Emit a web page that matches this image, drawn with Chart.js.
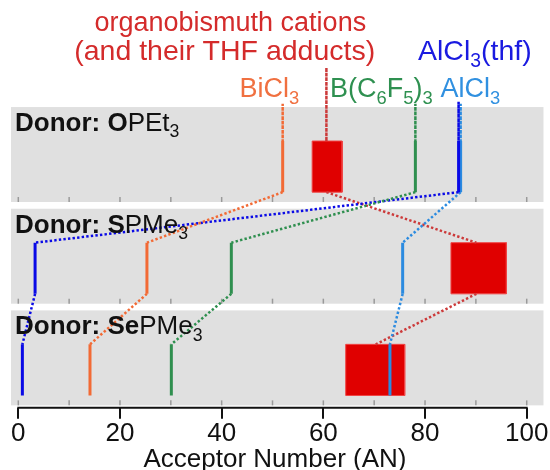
<!DOCTYPE html>
<html>
<head>
<meta charset="utf-8">
<script src="https://cdn.jsdelivr.net/npm/chart.js@4.4.0/dist/chart.umd.min.js"></script>
<style>
  html, body { margin: 0; padding: 0; background: #fff; }
</style>
</head>
<body>
<canvas id="anChart" width="550" height="470"></canvas>
<script>
// acceptor numbers, one value per donor panel (OPEt3, SPMe3, SePMe3)
const donors = ['OPEt3', 'SPMe3', 'SePMe3'];
const bicl3 = [52.0, 25.3, 14.1];
const bcf = [78.1, 41.9, 30.1];
const alcl3thf = [86.6, 3.3, 0.8];
const alcl3 = [87.0, 75.6, 73.1];
const cationLow = [57.8, 85.1, 64.4];
const cationHigh = [63.7, 96.0, 76.0];
const cationMid = [60.6, 90.1, 70.3];
const xTicks = [0, 20, 40, 60, 80, 100];
const minorTicks = [0, 10, 20, 30, 40, 50, 60, 70, 80, 90, 100];

// layout (panel units on y, AN units on x)
const X_MIN = -3.6, X_MAX = 104.58;
const Y_MIN = -1.52, Y_MAX = 2.49;
const PANEL_X0 = -1.44, PANEL_X1 = 103.3, PANEL_HALF = 0.467;
const LINE_TOP = -0.133, LINE_BOT = 0.37;
const FONT = "'Liberation Sans', Arial, sans-serif";

const ORANGE = '#f26a35', GREEN = '#2f8f4f', DBLUE = '#0a0ae6', LBLUE = '#2b8be0', RED = '#e00000';

const donorLabels = [
  [['Donor: O', 'b'], ['PEt', 'n'], ['3', 's']],
  [['Donor: S', 'b'], ['PMe', 'n'], ['3', 's']],
  [['Donor: Se', 'b'], ['PMe', 'n'], ['3', 's']]
];

const topLabels = [
  { parts: [['organobismuth cations', 'n']], x: 41.7, y: -1.22, size: 27, color: '#d42b2b' },
  { parts: [['(and their THF adducts)', 'n']], x: 40.6, y: -0.925, size: 28.5, color: '#d42b2b' },
  { parts: [['AlCl', 'n'], ['3', 's'], ['(thf)', 'n']], x: 89.8, y: -0.925, size: 28.5, color: '#1a1ae0' },
  { parts: [['BiCl', 'n'], ['3', 's']], x: 49.4, y: -0.565, size: 27, color: '#f07040' },
  { parts: [['B(C', 'n'], ['6', 's'], ['F', 'n'], ['5', 's'], [')', 'n'], ['3', 's']], x: 71.4, y: -0.565, size: 27, color: '#2e9050' },
  { parts: [['AlCl', 'n'], ['3', 's']], x: 88.9, y: -0.565, size: 27, color: '#3090e0' }
];

function trace(vals, labelY) {
  const pts = [{ x: vals[0], y: labelY }];
  vals.forEach((v, i) => {
    pts.push({ x: v, y: i + LINE_TOP });
    pts.push({ x: v, y: i + LINE_BOT });
  });
  return pts;
}

function seriesDataset(vals, color, labelY, order, dotColor, hideSolid) {
  return {
    type: 'line',
    data: trace(vals, labelY),
    borderColor: color,
    borderWidth: 3,
    pointRadius: 0,
    tension: 0,
    fill: false,
    order: order,
    segment: {
      borderDash: c => c.p0DataIndex % 2 === 0 ? [2.4, 2.2] : [],
      borderWidth: c => c.p0DataIndex % 2 === 0 ? 2.5 : 3,
      borderColor: c => c.p0DataIndex % 2 === 0 ? (dotColor || color) : (hideSolid ? 'rgba(0,0,0,0)' : color)
    }
  };
}

const rects = cationLow.map((lo, i) => ({
  type: 'line',
  data: [
    { x: lo, y: i + LINE_TOP }, { x: cationHigh[i], y: i + LINE_TOP },
    { x: cationHigh[i], y: i + LINE_BOT }, { x: lo, y: i + LINE_BOT },
    { x: lo, y: i + LINE_TOP }
  ],
  borderColor: '#f04545',
  borderWidth: 1,
  backgroundColor: RED,
  fill: 'shape',
  pointRadius: 0,
  tension: 0,
  order: 10
}));

function drawRich(ctx, parts, cx, baseY, size, color, align) {
  const pieces = parts.map(([t, k]) => {
    const fs = k === 's' ? size * 0.68 : size;
    const font = (k === 'b' ? 'bold ' : '') + fs + 'px ' + FONT;
    ctx.font = font;
    return { t, font, w: ctx.measureText(t).width, dy: k === 's' ? size * 0.24 : 0 };
  });
  const total = pieces.reduce((s, p) => s + p.w, 0);
  let x = align === 'left' ? cx : cx - total / 2;
  ctx.fillStyle = color;
  ctx.textBaseline = 'alphabetic';
  ctx.textAlign = 'left';
  pieces.forEach(p => {
    ctx.font = p.font;
    ctx.fillText(p.t, x, baseY + p.dy);
    x += p.w;
  });
}

const panelPlugin = {
  id: 'panels',
  beforeDatasetsDraw(chart) {
    const { ctx, scales: { x, y } } = chart;
    ctx.save();
    donors.forEach((_, i) => {
      const l = x.getPixelForValue(PANEL_X0), r = x.getPixelForValue(PANEL_X1);
      const t = y.getPixelForValue(i - PANEL_HALF), b = y.getPixelForValue(i + PANEL_HALF);
      ctx.fillStyle = '#e0e0e0';
      ctx.fillRect(l, t, r - l, b - t);
      ctx.strokeStyle = '#9a9a9a';
      ctx.lineWidth = 1.5;
      minorTicks.forEach(v => {
        const px = x.getPixelForValue(v);
        ctx.beginPath();
        ctx.moveTo(px, b);
        ctx.lineTo(px, b - 5);
        ctx.stroke();
      });
    });
    ctx.restore();
  },
  afterDatasetsDraw(chart) {
    const { ctx, scales: { x, y } } = chart;
    ctx.save();
    donorLabels.forEach((parts, i) => {
      drawRich(ctx, parts, x.getPixelForValue(PANEL_X0) + 4, y.getPixelForValue(i - PANEL_HALF) + 24, 26, '#111', 'left');
    });
    topLabels.forEach(lb => {
      drawRich(ctx, lb.parts, x.getPixelForValue(lb.x), y.getPixelForValue(lb.y), lb.size, lb.color, 'center');
    });
    ctx.restore();
  },
  afterDraw(chart) {
    const { ctx, chartArea, scales: { x } } = chart;
    ctx.save();
    ctx.strokeStyle = '#111';
    ctx.lineWidth = 2;
    ctx.beginPath();
    ctx.moveTo(x.getPixelForValue(xTicks[0]) - 1, chartArea.bottom);
    ctx.lineTo(x.getPixelForValue(xTicks[xTicks.length - 1]) + 1, chartArea.bottom);
    ctx.stroke();
    ctx.restore();
  }
};

new Chart(document.getElementById('anChart'), {
  type: 'line',
  data: {
    datasets: [
      seriesDataset(bicl3, ORANGE, -0.5, 1),
      seriesDataset(bcf, GREEN, -0.5, 1),
      seriesDataset(alcl3thf, DBLUE, -0.52, 2),
      seriesDataset(alcl3, LBLUE, -0.5, 3),
      seriesDataset(cationMid, RED, -0.85, 4, '#cc3a3a', true),
      ...rects
    ]
  },
  plugins: [panelPlugin],
  options: {
    responsive: false,
    animation: false,
    layout: { padding: 0 },
    plugins: { legend: { display: false }, tooltip: { enabled: false } },
    events: [],
    scales: {
      x: {
        type: 'linear',
        min: X_MIN,
        max: X_MAX,
        afterBuildTicks: s => { s.ticks = xTicks.map(v => ({ value: v })); },
        afterFit: s => { s.height = 62.3; },
        border: { display: false },
        grid: { drawOnChartArea: false, drawTicks: true, tickLength: 11, color: '#111', lineWidth: 2 },
        ticks: { autoSkip: false, maxRotation: 0, padding: 0, color: '#111', font: { family: FONT, size: 26 } },
        title: { display: true, text: 'Acceptor Number (AN)', color: '#111', padding: 0, font: { family: FONT, size: 26, lineHeight: 0.8 } }
      },
      y: {
        type: 'linear',
        display: false,
        reverse: true,
        min: Y_MIN,
        max: Y_MAX
      }
    }
  }
});
</script>
</body>
</html>
